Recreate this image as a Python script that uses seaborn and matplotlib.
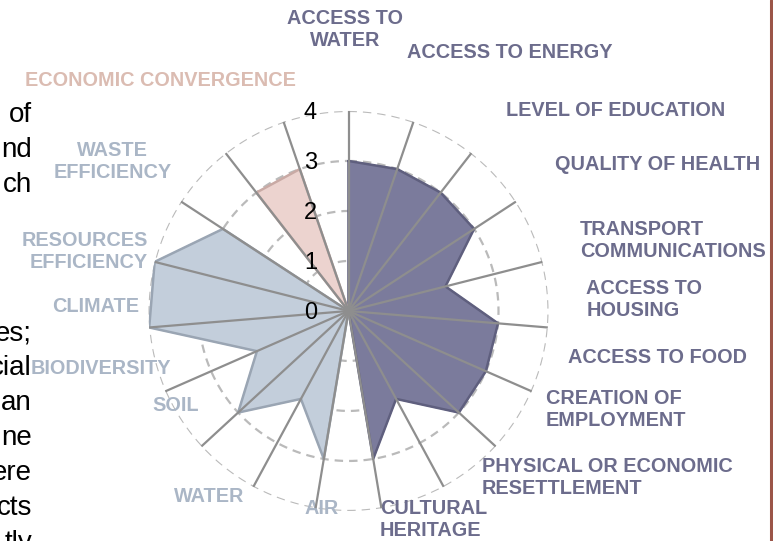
import numpy as np
import matplotlib
matplotlib.use("Agg")
import matplotlib.pyplot as plt
import matplotlib.transforms as mtransforms
import seaborn as sns

# radar categories, clockwise from the top (last spoke has no label)
categories = ["ACCESS TO\nWATER", "ACCESS TO ENERGY", "LEVEL OF EDUCATION", "QUALITY OF HEALTH",
              "TRANSPORT\nCOMMUNICATIONS", "ACCESS TO\nHOUSING", "ACCESS TO FOOD",
              "CREATION OF\nEMPLOYMENT", "PHYSICAL OR ECONOMIC\nRESETTLEMENT", "CULTURAL\nHERITAGE",
              "AIR", "WATER", "SOIL", "BIODIVERSITY", "CLIMATE", "RESOURCES\nEFFICIENCY",
              "WASTE\nEFFICIENCY", "ECONOMIC CONVERGENCE", ""]
social = [3, 3, 3, 3, 2, 3, 3, 3, 2, 3, 0, 0, 0, 0, 0, 0, 0, 0, 0]
environmental = [0, 0, 0, 0, 0, 0, 0, 0, 0, 0, 3, 2, 3, 2, 4, 4, 3, 0, 0]
economic = [0, 0, 0, 0, 0, 0, 0, 0, 0, 0, 0, 0, 0, 0, 0, 0, 0, 3, 3]
scale_ticks = [0, 1, 2, 3, 4]

# bits of the surrounding page text that show at the left edge
page_text = ["of", "nd", "ch", "es;", "cial", "an", "ne", "ere", "cts", "tly"]
page_baselines = [122, 157, 192, 340, 375, 410, 445, 480, 515, 550]

# label placement (compass angle in degrees, radius) and alignment
label_pos = [(-0.7, 5.62), (31.9, 6.10), (53.1, 6.69), (64.7, 6.84), (77.8, 6.63),
             (87.7, 5.92), (98.5, 6.25), (110.3, 5.70), (122.8, 6.16), (157.9, 4.51),
             (187.8, 3.98), (216.9, 4.63), (241.4, 3.93), (256.8, 5.08), (270.9, 5.06),
             (282.6, 5.41), (302.4, 5.59), (320.9, 5.95), (0, 0)]
label_align = ["center", "center", "center", "center", "left", "left", "center", "left", "left",
               "left", "center", "center", "center", "center", "center", "right", "center",
               "center", "center"]

purple, blue, pink = "#7b7b9c", "#c3cedb", "#ecd3cf"
purple_txt, blue_txt, pink_txt = "#6c6c8c", "#aab6c6", "#dbbcb2"
label_colors = [purple_txt] * 10 + [blue_txt] * 7 + [pink_txt] * 2

sns.set_theme(style="white")
plt.rcParams["font.family"] = ["Liberation Sans", "DejaVu Sans"]

fig = plt.figure(figsize=(7.73, 5.41), dpi=100)
ax = fig.add_axes([0.1921, 0.0555, 0.5175, 0.7394], projection="polar")
ax.set_theta_zero_location("N")
ax.set_theta_direction(-1)
ax.set_ylim(0, 4)
ax.set_xticks([])
ax.set_yticks([])
ax.grid(False)
ax.spines["polar"].set_visible(False)
ax.patch.set_alpha(0)

n = len(categories)
theta = np.arange(n) * 2 * np.pi / n
theta_closed = np.append(theta, 2 * np.pi)

# dashed rings
circ = np.linspace(0, 2 * np.pi, 400)
for r in scale_ticks[1:]:
    ax.plot(circ, np.full_like(circ, r), color="#bababa", lw=1.6, ls=(0, (3.8, 2.7)), zorder=1)

# filled series
for vals, fill, edge in [(social, purple, "#5f5f7e"), (environmental, blue, "#9aa5b3"),
                         (economic, pink, "#c9aaa5")]:
    v = np.append(vals, vals[0])
    ax.fill(theta_closed, v, color=fill, zorder=2)
    sns.lineplot(x=theta_closed, y=v, sort=False, estimator=None, ax=ax,
                 color=edge, lw=1.8, zorder=3)

# spokes
for t in theta:
    ax.plot([t, t], [0, 4], color="#8e8e8e", lw=1.6, zorder=4)

# scale numbers
trans = mtransforms.offset_copy(ax.transData, fig=fig, x=-38, y=-2, units="dots")
for r in scale_ticks:
    ax.text(0, r, str(r), transform=trans, ha="center", va="center", fontsize=17,
            color="black", zorder=5)

# category labels
for lab, (ang, rad), al, col in zip(categories, label_pos, label_align, label_colors):
    if not lab:
        continue
    ax.text(np.deg2rad(ang), rad, lab, ha="center", va="center", multialignment=al,
            fontsize=14.3, fontweight="bold", color=col, clip_on=False, linespacing=1.2)

# page text at the left
for frag, yb in zip(page_text, page_baselines):
    fig.text(32 / 773, 1 - yb / 541, frag, ha="right", va="baseline", fontsize=20, color="black")

# page border at the right
fig.add_artist(plt.Line2D([770.5 / 773] * 2, [0, 1], transform=fig.transFigure,
                          color="#9b5548", lw=2.2))

fig.savefig("out.png", dpi=100)
